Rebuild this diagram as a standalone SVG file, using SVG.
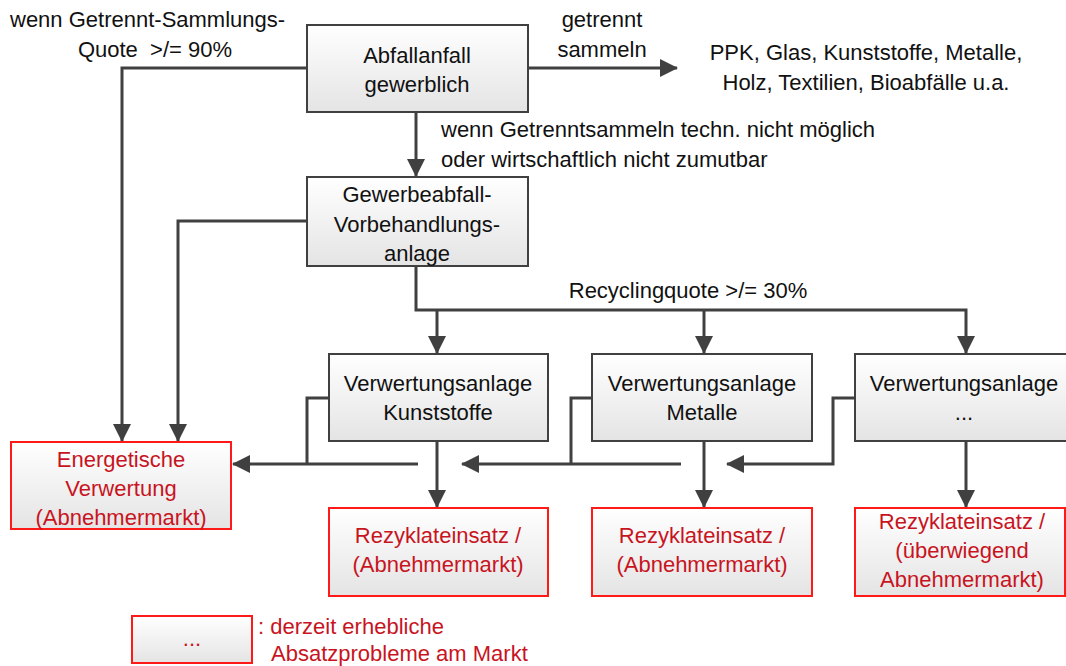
<svg xmlns="http://www.w3.org/2000/svg" width="1066" height="666" viewBox="0 0 1066 666">
<defs>
<linearGradient id="g" x1="0" y1="0" x2="0" y2="1"><stop offset="0" stop-color="#ffffff"/><stop offset="1" stop-color="#e4e4e4"/></linearGradient>
<marker id="ah" viewBox="0 0 18 18" refX="17" refY="9" markerWidth="18" markerHeight="18" markerUnits="userSpaceOnUse" orient="auto"><path d="M0,0 L18,9 L0,18 z" fill="#404040"/></marker>
</defs>
<style>
.box{fill:url(#g);stroke:#404040;stroke-width:2}
.rbox{fill:url(#g);stroke:#ff1a1a;stroke-width:2}
text{font-family:"Liberation Sans",Arial,sans-serif;font-size:22px;fill:#111111}
.c{text-anchor:middle}
.e{text-anchor:end}
.r{fill:#c8141e}
.ln{fill:none;stroke:#404040;stroke-width:3}
</style>
<rect width="1066" height="666" fill="#ffffff"/>
<g id="connectors">
<path class="ln" d="M307,68 H122 V441" marker-end="url(#ah)"/>
<path class="ln" d="M528,68 H677" marker-end="url(#ah)"/>
<path class="ln" d="M416,112 V176" marker-end="url(#ah)"/>
<path class="ln" d="M307,221 H178 V441" marker-end="url(#ah)"/>
<path class="ln" d="M416,266 V310 H966 V353" marker-end="url(#ah)"/>
<path class="ln" d="M437,310 V353" marker-end="url(#ah)"/>
<path class="ln" d="M704,310 V353" marker-end="url(#ah)"/>
<path class="ln" d="M329,398 H307 V464"/>
<path class="ln" d="M418,464 H233" marker-end="url(#ah)"/>
<path class="ln" d="M437,441 V507" marker-end="url(#ah)"/>
<path class="ln" d="M592,398 H571 V464"/>
<path class="ln" d="M681,464 H462" marker-end="url(#ah)"/>
<path class="ln" d="M704,441 V507" marker-end="url(#ah)"/>
<path class="ln" d="M855,398 H833 V464 H727" marker-end="url(#ah)"/>
<path class="ln" d="M966,441 V507" marker-end="url(#ah)"/>
</g>
<g id="n-abfall"><rect class="box" x="307" y="25" width="221" height="87"/><text class="c" x="417" y="63">Abfallanfall</text><text class="c" x="417" y="92">gewerblich</text></g>
<g id="n-gewerbe"><rect class="box" x="307" y="177" width="221" height="89"/><text class="c" x="417" y="202">Gewerbeabfall-</text><text class="c" x="417" y="232">Vorbehandlungs-</text><text class="c" x="417" y="261">anlage</text></g>
<g id="n-energ"><rect class="rbox" x="11" y="442" width="220" height="87"/><text class="c r" x="121" y="467">Energetische</text><text class="c r" x="121" y="496">Verwertung</text><text class="c r" x="121" y="525">(Abnehmermarkt)</text></g>
<g id="n-vk"><rect class="box" x="329" y="354" width="219" height="87"/><text class="c" x="438" y="391">Verwertungsanlage</text><text class="c" x="438" y="420">Kunststoffe</text></g>
<g id="n-vm"><rect class="box" x="592" y="354" width="220" height="87"/><text class="c" x="702" y="391">Verwertungsanlage</text><text class="c" x="702" y="420">Metalle</text></g>
<g id="n-vx"><rect class="box" x="855" y="354" width="220" height="87"/><text class="c" x="964" y="391">Verwertungsanlage</text><text class="c" x="964" y="420">...</text></g>
<g id="n-r1"><rect class="rbox" x="329" y="508" width="219" height="88"/><text class="c r" x="438" y="543">Rezyklateinsatz /</text><text class="c r" x="438" y="572">(Abnehmermarkt)</text></g>
<g id="n-r2"><rect class="rbox" x="592" y="508" width="220" height="88"/><text class="c r" x="702" y="543">Rezyklateinsatz /</text><text class="c r" x="702" y="572">(Abnehmermarkt)</text></g>
<g id="n-r3"><rect class="rbox" x="855" y="508" width="210" height="88"/><text class="c r" x="962" y="529">Rezyklateinsatz /</text><text class="c r" x="962" y="558">(überwiegend</text><text class="c r" x="962" y="587">Abnehmermarkt)</text></g>
<g id="legend"><rect class="rbox" x="132" y="616" width="120" height="47"/><text class="c r" x="192" y="646">...</text><text class="r" x="258" y="634">: derzeit erhebliche</text><text class="r" x="271" y="661">Absatzprobleme am Markt</text></g>
<g id="labels">
<text x="10" y="27">wenn Getrennt-Sammlungs-</text>
<text class="e" x="232" y="57">Quote&#160; &gt;/= 90%</text>
<text class="c" x="602" y="27">getrennt</text>
<text class="c" x="602" y="57">sammeln</text>
<text class="c" x="866" y="60">PPK, Glas, Kunststoffe, Metalle,</text>
<text class="c" x="866" y="90">Holz, Textilien, Bioabfälle u.a.</text>
<text x="441" y="137">wenn Getrenntsammeln techn. nicht möglich</text>
<text x="441" y="167">oder wirtschaftlich nicht zumutbar</text>
<text class="c" x="688" y="298">Recyclingquote &gt;/= 30%</text>
</g>
</svg>
